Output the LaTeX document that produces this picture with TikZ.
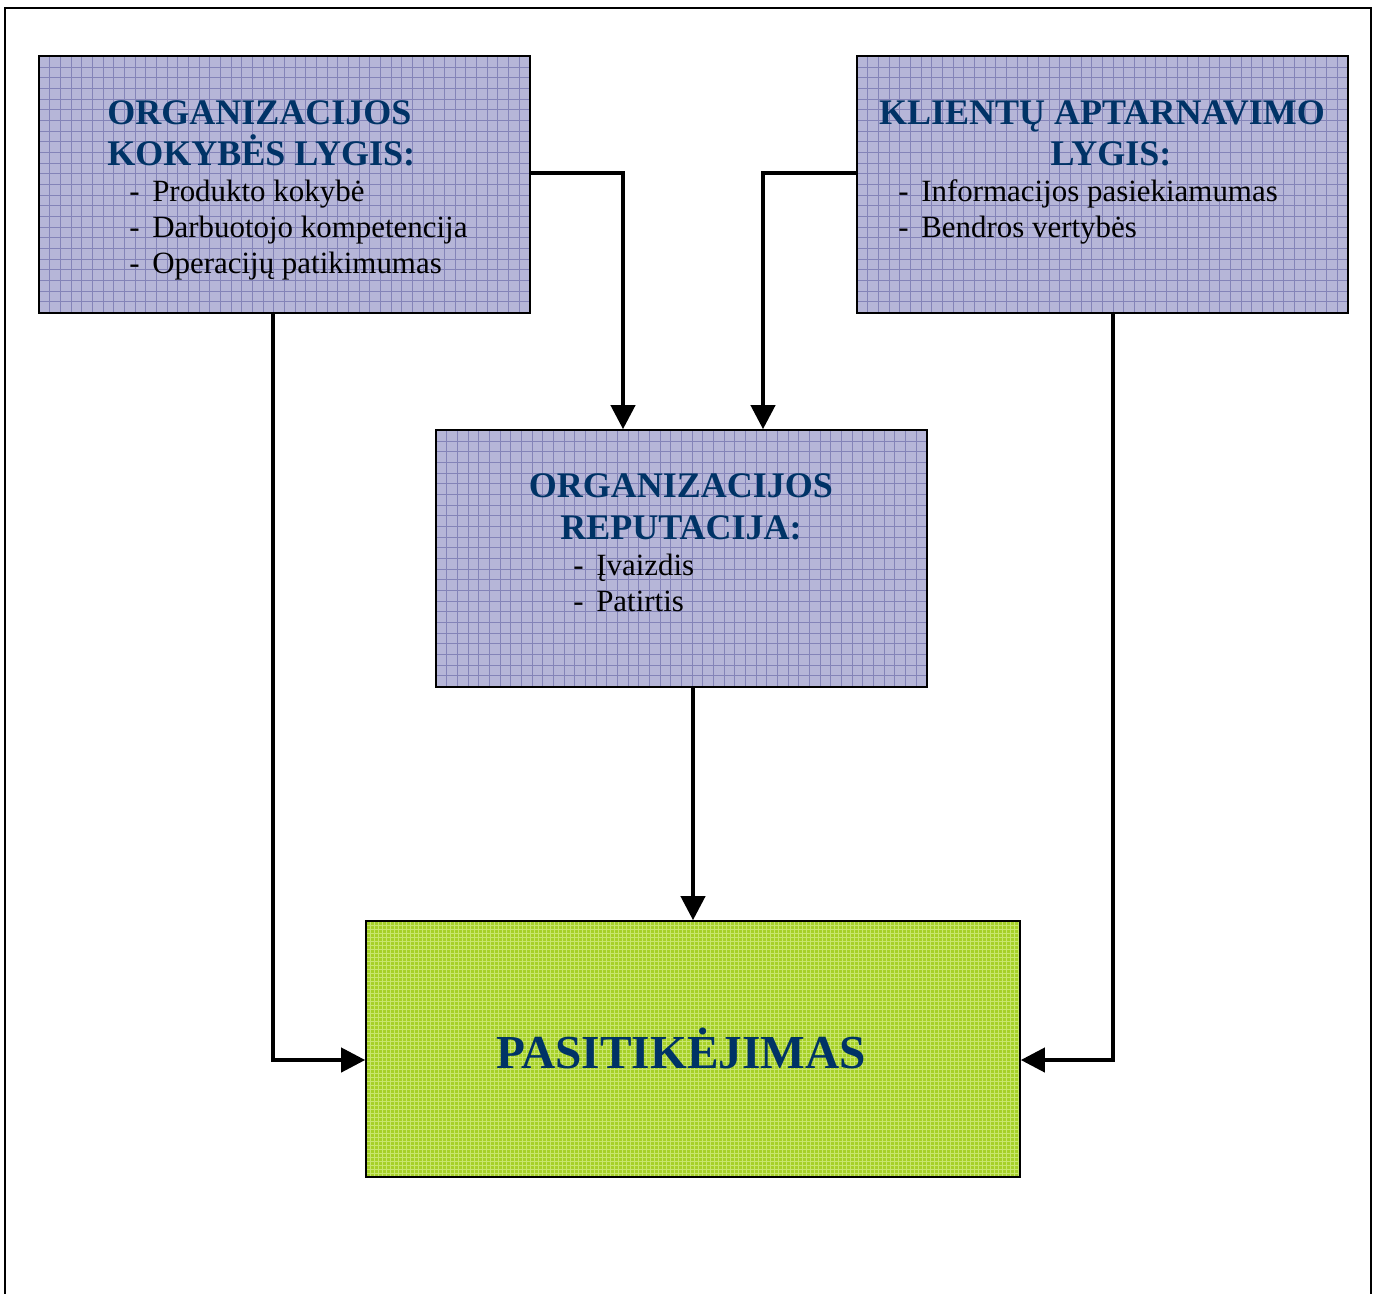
\documentclass[tikz,border=0pt]{standalone}
\usepackage{fontspec}
\setmainfont{Liberation Serif}
\usetikzlibrary{arrows.meta,fit}

\definecolor{titleblue}{RGB}{0,51,102}
\definecolor{lavender}{RGB}{182,182,216}
\definecolor{lavgrid}{RGB}{132,132,184}
\definecolor{limefill}{RGB}{166,208,40}
\definecolor{limegrid}{RGB}{200,230,110}

\tikzset{
  bluebox/.style={draw=black, line width=1.2pt, inner sep=0pt, fill=lavender,
    path picture={\draw[lavgrid, line width=0.6pt]
      (path picture bounding box.south west) grid[step=8pt]
      (path picture bounding box.north east);}},
  greenbox/.style={draw=black, line width=1.2pt, inner sep=0pt, fill=limefill,
    path picture={\draw[limegrid, line width=0.5pt]
      (path picture bounding box.south west) grid[step=3pt]
      (path picture bounding box.north east);}},
  headtxt/.style={anchor=base west, inner sep=0pt, text=titleblue,
    font=\fontsize{27}{30}\selectfont\bfseries},
  headmid/.style={headtxt, anchor=base},
  itemtxt/.style={anchor=base west, inner sep=0pt,
    font=\fontsize{23.2}{26}\selectfont},
  bigtxt/.style={anchor=base, inner sep=0pt, text=titleblue,
    font=\fontsize{35.5}{40}\selectfont\bfseries},
  conn/.style={line width=3pt, -{Triangle[length=18pt,width=18pt]}},
}

\begin{document}
\begin{tikzpicture}[x=0.75pt,y=-0.75pt]
  \useasboundingbox (0,0) rectangle (1378,1293);
  % outer frame
  \draw[line width=1.5pt] (5,1310) -- (5,8) -- (1371,8) -- (1371,1310);

  % boxes
  \node[bluebox, fit={(39,56) (530,313)}] (a) {};
  \node[bluebox, fit={(857,56) (1348,313)}] (b) {};
  \node[bluebox, fit={(436,430) (927,687)}] (c) {};
  \node[greenbox, fit={(366,921) (1020,1177)}] (d) {};

  % quality level
  \node[headtxt] (a1) at (107,124) {ORGANIZACIJOS};
  \node[headtxt] (a2) at (107,165) {KOKYBĖS LYGIS:};
  \node[itemtxt] (a3d) at (129,201) {-};
  \node[itemtxt] (a3) at (152,201) {Produkto kokybė};
  \node[itemtxt] (a4d) at (129,237) {-};
  \node[itemtxt] (a4) at (152,237) {Darbuotojo kompetencija};
  \node[itemtxt] (a5d) at (129,273) {-};
  \node[itemtxt] (a5) at (152,273) {Operacijų patikimumas};

  % service level
  \node[headmid] (b1) at (1102,124) {KLIENTŲ APTARNAVIMO};
  \node[headmid] (b2) at (1111,165) {LYGIS:};
  \node[itemtxt] (b3d) at (898,201) {-};
  \node[itemtxt] (b3) at (921,201) {Informacijos pasiekiamumas};
  \node[itemtxt] (b4d) at (898,237) {-};
  \node[itemtxt] (b4) at (921,237) {Bendros vertybės};

  % reputation
  \node[headmid] (c1) at (681,497) {ORGANIZACIJOS};
  \node[headmid] (c2) at (681,539) {REPUTACIJA:};
  \node[itemtxt] (c3d) at (573,575) {-};
  \node[itemtxt] (c3) at (596,575) {Įvaizdis};
  \node[itemtxt] (c4d) at (573,611) {-};
  \node[itemtxt] (c4) at (596,611) {Patirtis};

  % trust
  \node[bigtxt] (d1) at (681,1068) {PASITIKĖJIMAS};

  % connectors
  \coordinate (ra) at (623,173);
  \coordinate (rb) at (763,173);
  \coordinate (cd) at (693,0);
  \coordinate (la) at (273,1060);
  \coordinate (lb) at (1113,1060);
  \draw[conn] (a.east |- ra) -| (ra |- c.north);
  \draw[conn] (b.west |- rb) -| (rb |- c.north);
  \draw[conn] (c.south -| cd) -- (d.north -| cd);
  \draw[conn] (a.south -| la) |- (d.west |- la);
  \draw[conn] (b.south -| lb) |- (d.east |- lb);
\end{tikzpicture}
\end{document}
